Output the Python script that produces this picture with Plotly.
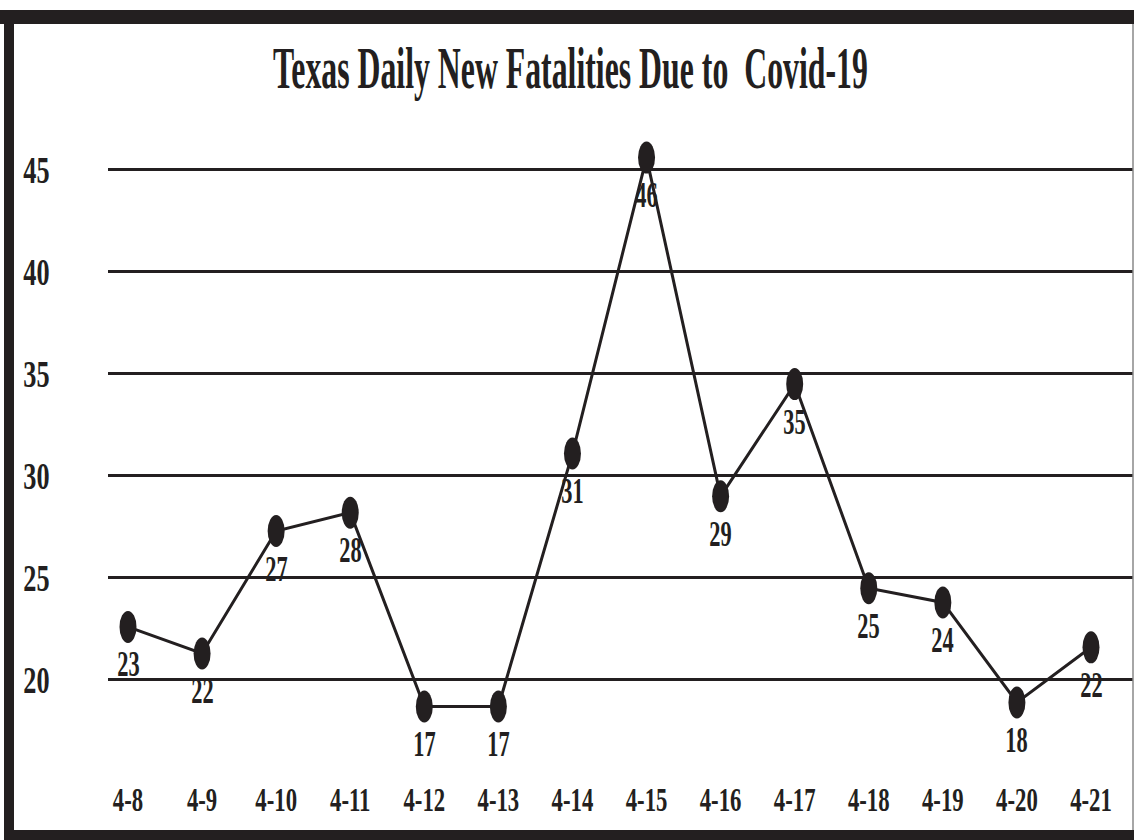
import plotly.graph_objects as go

# ---- data ----
dates = ["4-8", "4-9", "4-10", "4-11", "4-12", "4-13", "4-14",
         "4-15", "4-16", "4-17", "4-18", "4-19", "4-20", "4-21"]
# reported daily values (labels)
labels = ["23", "22", "27", "28", "17", "17", "31",
          "46", "29", "35", "25", "24", "18", "22"]
# positions as drawn on the chart
drawn = [22.6, 21.3, 27.3, 28.2, 18.7, 18.7, 31.1,
         45.6, 29.0, 34.5, 24.5, 23.8, 18.9, 21.6]
y_ticks = [20, 25, 30, 35, 40, 45]
title_text = "Texas Daily New Fatalities Due to  Covid-19"

INK = "#231f20"
FONT = "Liberation Serif"

W, H = 1134, 840
ML, MR, MT, MB = 108, 1, 129, 58
PW, PH = W - ML - MR, H - MT - MB
XR = [-0.27, 13.567]
YR = [15, 47]

xs = list(range(len(dates)))

fig = go.Figure()
fig.add_trace(go.Scatter(x=xs, y=drawn, mode="lines",
                         line=dict(color=INK, width=3), hoverinfo="skip",
                         showlegend=False))

# ellipse markers (vertical ellipses) sized in pixels via axis scale
hw = 8.5 * (XR[1] - XR[0]) / PW
hh = 16.0 * (YR[1] - YR[0]) / PH
shapes = []
for x, v in zip(xs, drawn):
    shapes.append(dict(type="circle", xref="x", yref="y",
                       x0=x - hw, x1=x + hw, y0=v - hh, y1=v + hh,
                       fillcolor=INK, line=dict(width=0), layer="above"))

# frame
def px_x(p):
    return (p - ML) / PW
def px_y(p):
    return (H - MB - p) / PH

frame = [
    (0, 10, W, 24),     # top band
    (4, 10, 14, 840),   # left band
    (4, 830, W, 840),   # bottom band
]
for x0, y0, x1, y1 in frame:
    shapes.append(dict(type="rect", xref="paper", yref="paper",
                       x0=px_x(x0), x1=px_x(x1), y0=px_y(y1), y1=px_y(y0),
                       fillcolor=INK, line=dict(width=0), layer="above"))
shapes.append(dict(type="line", xref="paper", yref="paper",
                   x0=px_x(1133), x1=px_x(1133), y0=px_y(830), y1=px_y(24),
                   line=dict(color="#888888", width=1.5), layer="above"))

annotations = []
for x, v, t in zip(xs, drawn, labels):
    annotations.append(dict(x=x, y=v, xref="x", yref="y", text=t,
                            showarrow=False, yshift=-38,
                            font=dict(family=FONT, size=35, color=INK, weight="bold")))

fig.update_layout(
    width=W, height=H,
    margin=dict(l=ML, r=MR, t=MT, b=MB),
    paper_bgcolor="white", plot_bgcolor="white",
    title=dict(text=title_text, x=0.503, xanchor="center", y=0.92, yanchor="middle",
               font=dict(family=FONT, size=60, color=INK, weight="bold")),
    shapes=shapes, annotations=annotations,
    showlegend=False,
)
fig.update_xaxes(range=XR, tickvals=xs, ticktext=dates, showgrid=False,
                 zeroline=False, showline=False, ticks="",
                 ticklabelstandoff=-5,
                 tickfont=dict(family=FONT, size=33, color=INK, weight="bold"))
fig.update_yaxes(range=YR, tickvals=y_ticks, showgrid=True, gridcolor=INK,
                 gridwidth=3, zeroline=False, showline=False, ticks="",
                 ticklabelstandoff=52,
                 tickfont=dict(family=FONT, size=37, color=INK, weight="bold"))

# condensed typeface look: narrow the glyphs horizontally around each text centre
post = """
document.body.style.margin = '0';
document.body.style.overflow = 'hidden';
var gd = document.getElementById('{plot_id}');
function squeeze(sel, s) {
  gd.querySelectorAll(sel).forEach(function (t) {
    var b = t.getBBox();
    var cx = b.x + b.width / 2;
    var tr = t.getAttribute('transform') || '';
    t.setAttribute('transform', tr + ' translate(' + cx + ',0) scale(' + s + ',1) translate(' + (-cx) + ',0)');
  });
}
function run() {
  squeeze('.gtitle', 0.53);
  squeeze('.xtick text', 0.69);
  squeeze('.ytick text', 0.71);
  squeeze('.annotation-text', 0.64);
}
if (gd && gd._fullLayout) { run(); }
"""

fig.write_html("out.html", post_script=post, config={"displayModeBar": False})
